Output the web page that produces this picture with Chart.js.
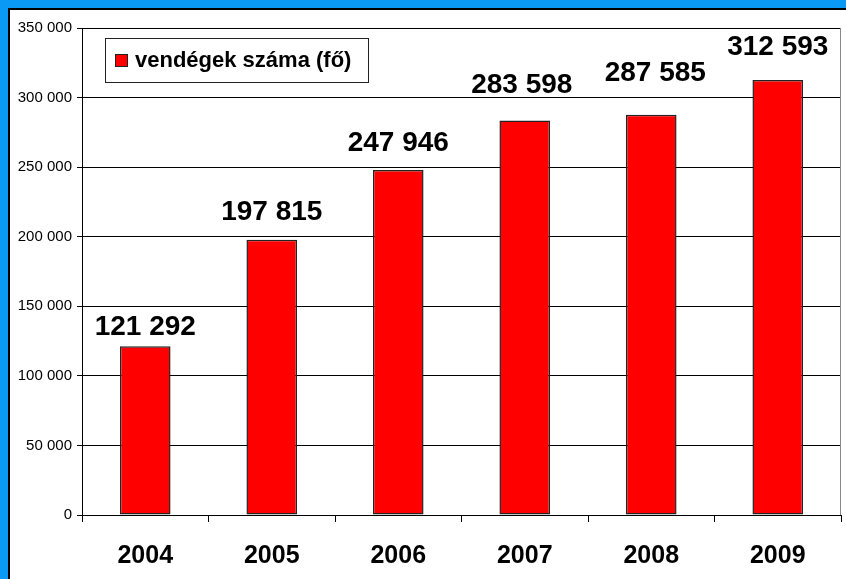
<!DOCTYPE html>
<html>
<head>
<meta charset="utf-8">
<script src="https://cdn.jsdelivr.net/npm/chart.js@4.4.1/dist/chart.umd.min.js"></script>
<style>
  body { margin: 0; background: #0a99f5; width: 846px; height: 579px; overflow: hidden; position: relative; }
  #panel { position: absolute; left: 8px; top: 8px; width: 900px; height: 700px; background: #fff; border: 2px solid #000; }
  #chart { position: absolute; left: 0; top: 0; }
</style>
</head>
<body>
<div id="panel"></div>
<canvas id="chart" width="846" height="579"></canvas>
<script>
var years = ['2004', '2005', '2006', '2007', '2008', '2009'];
var guests = [121292, 197815, 247946, 283598, 287585, 312593];
var seriesName = 'vendégek száma (fő)';
var yTicks = [0, 50000, 100000, 150000, 200000, 250000, 300000, 350000];

function spaced(n) {
    return n.toString().replace(/\B(?=(\d{3})+(?!\d))/g, ' ');
}

// labels in the original sit at hand-placed heights above the bars
var labelLift = [11, 20, 19, 27, 34, 25];
var labelShift = [0, 0, 0, -3, 4, 0];

var valueLabels = {
    id: 'valueLabels',
    afterDatasetsDraw: function(chart) {
        var ctx = chart.ctx;
        var meta = chart.getDatasetMeta(0);
        ctx.save();
        ctx.font = 'bold 28px "Liberation Sans", Arial, sans-serif';
        ctx.fillStyle = '#000';
        ctx.textAlign = 'center';
        ctx.textBaseline = 'alphabetic';
        meta.data.forEach(function(bar, i) {
            ctx.fillText(spaced(guests[i]), bar.x + labelShift[i], bar.y - labelLift[i]);
        });
        ctx.restore();
    }
};

var boxLegend = {
    id: 'boxLegend',
    afterDraw: function(chart) {
        var ctx = chart.ctx;
        var a = chart.chartArea;
        ctx.save();
        // right edge of plot area
        ctx.strokeStyle = '#888';
        ctx.lineWidth = 1;
        ctx.beginPath();
        ctx.moveTo(a.right - 0.5, a.top);
        ctx.lineTo(a.right - 0.5, a.bottom);
        ctx.stroke();

        var x = a.left + 23, y = a.top + 10;
        ctx.fillStyle = '#fff';
        ctx.fillRect(x, y, 263, 44);
        ctx.strokeStyle = '#222';
        ctx.strokeRect(x + 0.5, y + 0.5, 263, 44);
        ctx.fillStyle = '#ff0000';
        ctx.fillRect(x + 10, y + 16, 13, 13);
        ctx.strokeStyle = '#222';
        ctx.strokeRect(x + 10.5, y + 16.5, 12, 12);
        ctx.fillStyle = '#000';
        ctx.font = 'bold 22px "Liberation Sans", Arial, sans-serif';
        ctx.textBaseline = 'middle';
        ctx.fillText(seriesName, x + 30, y + 23);
        ctx.restore();
    }
};

new Chart(document.getElementById('chart'), {
    type: 'bar',
    data: {
        labels: years,
        datasets: [{
            label: seriesName,
            data: guests,
            backgroundColor: '#ff0000',
            borderColor: '#222',
            borderWidth: 1.5,
            borderSkipped: false,
            barPercentage: 0.4,
            categoryPercentage: 1
        }]
    },
    options: {
        responsive: false,
        animation: false,
        devicePixelRatio: 1,
        layout: { padding: { left: 0, right: 5, top: 28, bottom: 0 } },
        plugins: {
            legend: { display: false },
            tooltip: { enabled: false }
        },
        scales: {
            x: {
                afterFit: function(s) { s.height = 64; },
                grid: { drawOnChartArea: false, color: '#000', tickLength: 7, offset: true },
                border: { color: '#000' },
                ticks: {
                    color: '#000',
                    padding: 19,
                    maxRotation: 0,
                    autoSkip: false,
                    font: { family: '"Liberation Sans", Arial, sans-serif', size: 25, weight: 'bold' }
                }
            },
            y: {
                min: 0,
                max: 350000,
                afterFit: function(s) { s.width = 82; },
                afterBuildTicks: function(s) { s.ticks = yTicks.map(function(v) { return { value: v }; }); },
                grid: { color: '#000', tickLength: 5 },
                border: { color: '#000' },
                ticks: {
                    color: '#000',
                    padding: 5,
                    font: { family: '"Liberation Sans", Arial, sans-serif', size: 15 },
                    callback: function(v) { return spaced(v); }
                }
            }
        }
    },
    plugins: [valueLabels, boxLegend]
});
</script>
</body>
</html>
